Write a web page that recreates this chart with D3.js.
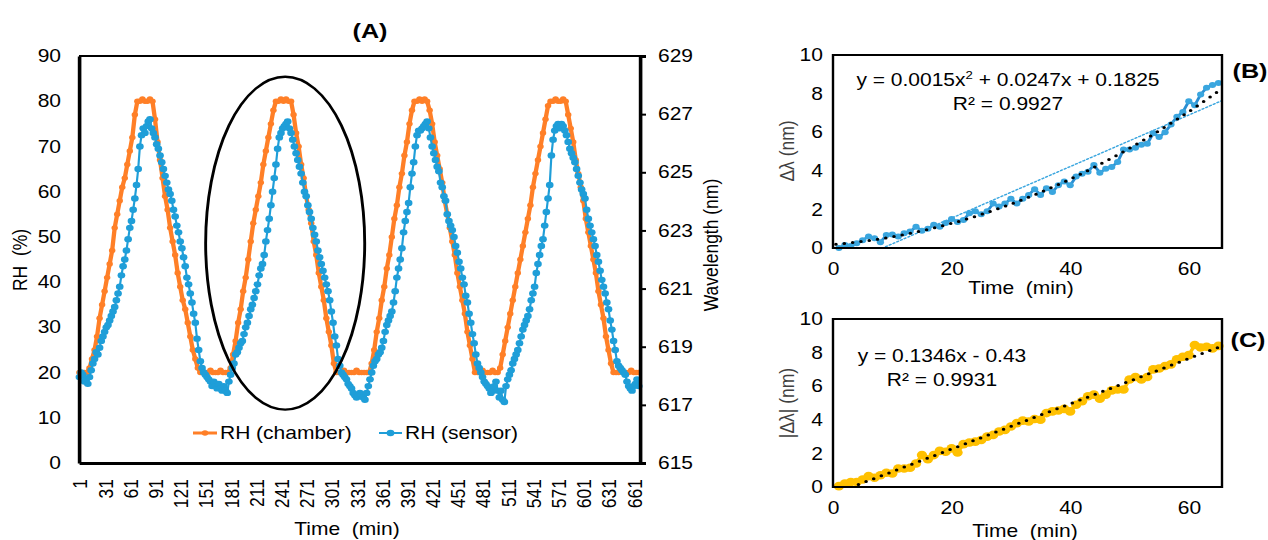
<!DOCTYPE html>
<html>
<head>
<meta charset="utf-8">
<script src="https://cdn.jsdelivr.net/npm/d3@7/dist/d3.min.js"></script>
<style>
  body { margin: 0; background: #fff; }
  svg text { font-family: "Liberation Sans", Arial, sans-serif; fill: #000; white-space: pre; }
</style>
</head>
<body>
<svg id="chart" width="1268" height="540"></svg>
<script>
// ---- panel A: RH cycling (chamber every 3 min, sensor every 2 min) ----
const chamberRH = [
  20,20,20,20, 21,23,25,28,32,35,38,41,44,47,52,55,58,61,63,66,69,72,77,80,
  80,80.5,80,80,80.5,80, 76,71,67,63,59,56,52,49,46,42,39,36,34,31,28,25,23,21,20,
  20,20,20,20.5,20,20,20,20.5,20,20,20,
  21,24,27,31,34,38,41,45,49,53,56,59,62,66,69,72,75,78,80,
  80,80.5,80,80.5,80,80, 77,73,70,66,63,59,56,53,49,46,42,39,36,32,29,26,22,20,
  20,20,20.5,20,20,20,20,20.5,20,20,20,20,20,
  22,25,29,32,36,39,43,46,50,54,57,61,64,68,71,75,78,80,
  80,80.5,80,80.5,80, 78,75,71,68,65,62,58,55,52,49,46,42,39,36,33,29,26,23,20,
  20,20,20.5,20,20,20,20.5,20,20,
  21,24,27,30,33,36,39,42,45,48,51,54,57,61,64,67,70,73,76,79,80,
  80,80.5,80,80,80.5,80, 77,74,71,67,64,61,58,54,51,48,45,42,38,35,32,28,25,22,20,
  20,20,20.5,20,20,20,20.5,20,20,20
];
const sensorRH = [
  19,20,19.5,18,18.5,17.5,19,20.5,22,23,24.5,24,25.5,27,28,29,30,30.5,31.5,32.5,
  33.5,34.5,36,37.5,39,41.5,43.5,45,47,49.5,52,53.5,56,58.5,61.5,65,70,72.5,74,73,
  74.5,75.5,76,74,73,72,70.5,69.5,68,66.5,65,63.5,62,60.5,59.5,58,56,54.5,52.5,51,
  49,47.5,45.5,43.5,41,39.5,37.5,35.5,33,31,27.5,25,22.5,21,20,19.5,19,18.5,18,17,
  18,17,16.5,17.5,16.5,16,17,16,15.5,18,19.5,21,22,24,24.5,25.5,26.5,27,28.5,30,
  31,32.5,34,35,36.5,38,39.5,41.5,43,44,46,49,51.5,54,57,60,63,66,69.5,72,
  73,74,74.5,75,75.5,74,73,71.5,70,68.5,67,65.5,64,62,60,59,57,55.5,54,52,
  50.5,49,47,45.5,44,42.5,41,39.5,38,36,33.5,31,28,26,23,21.5,20,19.5,19,18.5,
  17.5,17,16.5,15.5,15,14.5,15,15.5,15,14.5,14,15.5,17,18.5,20,21.5,22.5,23,24,24.5,
  25.5,27,29,30.5,31.5,32.5,33.5,35.5,38,41,43,45,47.5,51,53.5,55.5,57.5,61,64,66.5,
  70,72.5,73.5,73.5,74,74.5,75,75.5,74,72,70,68.5,67,65.5,64.5,62,61,59,58,55,
  53.5,52.5,51.5,50,48,46.5,44.5,43,41,39.5,37,35.5,33,31,28.5,26.5,24,22,21,20,
  19,18,17.5,17,16.5,15.5,16,17,18,16,14.5,16,14,13.5,17,18.5,19.5,20.5,22,23,
  24,25,26.5,28,29.5,30.5,31.5,32.5,34,36,37.5,39,42,44,46,48,49.5,52.5,55.5,58.5,
  61.5,68,71.5,73.5,74.5,75,74,75,74.5,73.5,72.5,71,69.5,68.5,67.5,66.5,65,63.5,62,60.5,
  59.5,58.5,56,54,52.5,51,49.5,48,46,44.5,42.5,40.5,39,37.5,35.5,34,31.5,29.5,27,25,
  22.5,21.5,21,20.5,20,19.5,18,17,16.5,16,17,17.5,18.5,17
];
const chamberTime = d3.range(1, 668, 3);
const sensorTime = d3.range(1, 668, 2);
const timeLabelsA = [1,31,61,91,121,151,181,211,241,271,301,331,361,391,421,451,481,511,541,571,601,631,661];
const rhTicks = [0,10,20,30,40,50,60,70,80,90];
const wlTicks = [615,617,619,621,623,625,627,629];
// highlighted cycle (centre time, centre RH, half widths)
const ringA = {t: 246, rh: 48.6, dt: 94.7, drh: 36.8};

// ---- panels B and C: wavelength shift over one rise ----
const shiftTime = d3.range(1, 66);
const shiftB = [0,0.15,0.1,0.25,0.4,0.6,0.5,0.3,0.67,0.7,0.6,0.76,0.85,1.1,0.9,1.0,1.2,1.1,1.3,1.5,
  1.35,1.45,1.8,1.9,1.75,1.9,2.3,2.15,2.3,2.55,2.3,2.55,2.75,3.05,2.75,3.1,2.9,3.25,3.45,3.25,
  3.7,3.85,3.95,4.3,3.9,4.1,4.2,4.45,5.1,5.1,5.2,5.35,5.4,5.95,5.75,6.0,6.4,6.8,7.05,7.6,
  7.4,7.95,8.3,8.45,8.55];
const shiftC = [0.05,0.2,0.3,0.3,0.45,0.65,0.55,0.7,0.85,0.8,1.1,1.1,1.15,1.4,1.9,1.65,1.9,2.15,2.1,2.3,
  2.05,2.55,2.65,2.7,2.8,3.0,3.1,3.3,3.4,3.6,3.8,3.95,3.9,4.05,4.0,4.4,4.5,4.55,4.65,4.5,
  4.9,5.1,5.4,5.5,5.25,5.5,5.75,5.8,5.8,6.4,6.55,6.4,6.55,7.0,7.05,7.2,7.3,7.6,7.75,7.85,
  8.45,8.3,8.35,8.25,8.4];
const polyB = [0.0015, 0.0247, 0.1825];   // trendline coefficients (x², x, 1)
const linB = [0.1335, -1.12];
const linC = [0.1346, -0.43];
const shiftTicks = [0,2,4,6,8,10];
const minTicks = [0,20,40,60];

const orange = '#ff7f27', blue = '#1f9ed8', gold = '#ffc000';
const stretch = 1.2;           // the picture is stretched horizontally
const sx = v => v / stretch;   // screen x -> drawing x
const FS = 17.5;

const svg = d3.select('#chart');
const defs = svg.append('defs');
const root = svg.append('g').attr('transform', `scale(${stretch},1)`);

function styleAxis(g, width) {
    g.selectAll('text').style('font-size', FS + 'px').attr('fill', '#000');
    g.select('.domain').attr('stroke', '#000').attr('stroke-width', width);
    g.selectAll('.tick line').attr('stroke', '#000').attr('stroke-width', 2);
}
function addText(x, y, str, opts) {
    opts = opts || {};
    let t = root.append('text').attr('x', sx(x)).attr('y', y).text(str)
        .attr('text-anchor', opts.anchor || 'middle')
        .style('font-size', (opts.size || FS) + 'px');
    if(opts.bold) t.style('font-weight', 'bold');
    if(opts.rotate) t.attr('transform', `rotate(-90,${sx(x)},${y})`).attr('dy', '0.35em');
    if(opts.color) t.style('fill', opts.color);
    return t;
}

// ================= panel A =================
const A = {left: sx(79), right: sx(640), top: 56, bottom: 463};
const xA = d3.scaleLinear().domain([0.5, 668.5]).range([A.left, A.right]);
const yA = d3.scaleLinear().domain([0, 90]).range([A.bottom, A.top]);
const yA2 = d3.scaleLinear().domain([615, 629]).range([A.bottom, A.top]);
const gA = root.append('g');

gA.append('line').attr('x1', A.left).attr('x2', A.right).attr('y1', A.top).attr('y2', A.top)
    .attr('stroke', '#000').attr('stroke-width', 2);

const lineA = d3.line().x(d => xA(d[0])).y(d => yA(d[1]));
const chamberPts = chamberTime.map((t, i) => [t, chamberRH[i]]);
const sensorPts = sensorTime.map((t, i) => [t, sensorRH[i]]).filter(d => d[1] !== undefined);

gA.append('path').datum(chamberPts).attr('d', lineA).attr('fill', 'none')
    .attr('stroke', orange).attr('stroke-width', 3.6).attr('stroke-linejoin', 'round');
gA.selectAll('.mc').data(chamberPts).join('circle').attr('class', 'mc')
    .attr('cx', d => xA(d[0])).attr('cy', d => yA(d[1])).attr('r', 2.7).attr('fill', orange);
gA.append('path').datum(sensorPts).attr('d', lineA).attr('fill', 'none')
    .attr('stroke', blue).attr('stroke-width', 1.8);
gA.selectAll('.ms').data(sensorPts).join('circle').attr('class', 'ms')
    .attr('cx', d => xA(d[0])).attr('cy', d => yA(d[1])).attr('r', 3.2).attr('fill', blue);

gA.append('ellipse')
    .attr('cx', xA(ringA.t)).attr('cy', yA(ringA.rh))
    .attr('rx', xA(ringA.t + ringA.dt) - xA(ringA.t))
    .attr('ry', yA(ringA.rh - ringA.drh) - yA(ringA.rh))
    .attr('fill', 'none').attr('stroke', '#000').attr('stroke-width', 2.4);

gA.append('g').attr('transform', `translate(${A.left},0)`)
    .call(d3.axisLeft(yA).tickValues(rhTicks).tickSize(0).tickPadding(15))
    .call(g => styleAxis(g, 3));
gA.append('g').attr('transform', `translate(${A.right},0)`)
    .call(d3.axisRight(yA2).tickValues(wlTicks).tickSize(5).tickPadding(10))
    .call(g => styleAxis(g, 3));
gA.append('g').attr('transform', `translate(0,${A.bottom})`)
    .call(d3.axisBottom(xA).tickValues(timeLabelsA).tickSize(0))
    .call(g => styleAxis(g, 3))
    .call(g => g.selectAll('text').attr('transform', 'rotate(-90)')
        .attr('text-anchor', 'end').attr('x', -16).attr('y', 0).attr('dy', '0.35em'));

// legend
const legend = [
    {name: 'RH (chamber)', color: orange, x0: 193, x1: 217, r: 2.7, w: 3},
    {name: 'RH (sensor)', color: blue, x0: 379, x1: 402, r: 3.2, w: 2}
];
legend.forEach(d => {
    root.append('line').attr('x1', sx(d.x0)).attr('x2', sx(d.x1)).attr('y1', 433).attr('y2', 433)
        .attr('stroke', d.color).attr('stroke-width', d.w);
    root.append('circle').attr('cx', sx((d.x0 + d.x1) / 2)).attr('cy', 433).attr('r', d.r).attr('fill', d.color);
    addText(d.x1 + 3, 439.5, d.name, {anchor: 'start'});
});

addText(370, 38, '(A)', {bold: true, size: 21});
addText(20, 260, 'RH  (%)', {rotate: true});
addText(711, 245, 'Wavelength (nm)', {rotate: true});
addText(347, 535, 'Time  (min)');

// ================= panels B, C =================
function shiftPanel(p) {
    const x = d3.scaleLinear().domain([0, 65.6]).range([p.left, p.right]);
    const y = d3.scaleLinear().domain([0, 10]).range([p.bottom, p.top]);
    const g = root.append('g');
    const clipId = 'clip' + p.id;
    defs.append('clipPath').attr('id', clipId).append('rect')
        .attr('x', p.left).attr('y', p.top)
        .attr('width', p.right - p.left).attr('height', p.bottom - p.top);

    g.append('g').attr('transform', `translate(${p.left},0)`)
        .call(d3.axisLeft(y).tickValues(shiftTicks).tickSize(0).tickPadding(8.5))
        .call(gg => styleAxis(gg, 0)).call(gg => gg.select('.domain').remove());
    g.append('g').attr('transform', `translate(0,${p.bottom})`)
        .call(d3.axisBottom(x).tickValues(minTicks).tickSize(0).tickPadding(15))
        .call(gg => styleAxis(gg, 0)).call(gg => gg.select('.domain').remove());

    const pts = shiftTime.map((t, i) => [t, p.values[i]]);
    const line = d3.line().x(d => x(d[0])).y(d => y(d[1]));
    g.append('path').datum(pts).attr('d', line).attr('fill', 'none')
        .attr('stroke', p.lineColor).attr('stroke-width', p.lineWidth);
    g.selectAll('.m').data(pts).join('circle').attr('class', 'm')
        .attr('cx', d => x(d[0])).attr('cy', d => y(d[1])).attr('r', p.r).attr('fill', p.color);

    const trendT = d3.range(0.5, 65.6, 0.25);
    const tg = g.append('g').attr('clip-path', `url(#${clipId})`);
    p.trends.forEach(tr => {
        tg.append('path').datum(trendT.map(t => [t, tr.f(t)]).filter(d => d[1] >= -0.05))
            .attr('d', line).attr('fill', 'none').attr('stroke', tr.color)
            .attr('stroke-width', tr.width).attr('stroke-dasharray', tr.dash)
            .attr('stroke-linecap', 'round');
    });

    g.append('rect').attr('x', p.left).attr('y', p.top)
        .attr('width', p.right - p.left).attr('height', p.bottom - p.top)
        .attr('fill', 'none').attr('stroke', '#000').attr('stroke-width', 2);
}

shiftPanel({id: 'B', left: sx(833), right: sx(1222), top: 55, bottom: 248,
    values: shiftB, color: '#3aa6df', lineColor: '#2a8ed2', lineWidth: 2.5, r: 3,
    trends: [
        {f: t => linB[0] * t + linB[1], color: '#3aa6df', width: 1.4, dash: '1.5 2'},
        {f: t => polyB[0] * t * t + polyB[1] * t + polyB[2], color: '#000', width: 3, dash: '0 7'}
    ]});
shiftPanel({id: 'C', left: sx(833), right: sx(1222), top: 319, bottom: 487,
    values: shiftC, color: gold, lineColor: gold, lineWidth: 3, r: 4.3,
    trends: [
        {f: t => linC[0] * t + linC[1], color: '#000', width: 3, dash: '0 7'}
    ]});

// equations
const eqB = addText(1008, 86, 'y = 0.0015x');
eqB.append('tspan').text('2').attr('dy', -7).style('font-size', '11px');
eqB.append('tspan').text(' + 0.0247x + 0.1825').attr('dy', 7);
addText(1008, 110.5, 'R² = 0.9927');
addText(942, 362.5, 'y = 0.1346x - 0.43');
addText(942, 386.5, 'R² = 0.9931');

addText(1250, 78, '(B)', {bold: true, size: 21});
addText(1248, 347, '(C)', {bold: true, size: 21});
addText(787, 151, 'Δλ (nm)', {rotate: true, color: '#404040'});
addText(787, 403, '|Δλ| (nm)', {rotate: true, color: '#404040'});
addText(1021, 294, 'Time  (min)');
addText(1025, 537, 'Time  (min)');
</script>
</body>
</html>
